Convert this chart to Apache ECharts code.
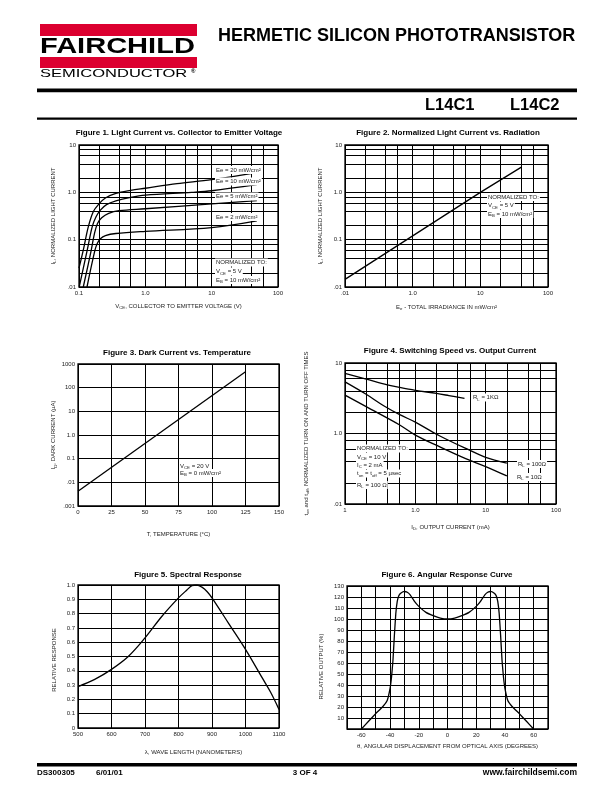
<!DOCTYPE html>
<html><head><meta charset="utf-8">
<script src="https://cdn.jsdelivr.net/npm/echarts/dist/echarts.min.js"></script>
<style>html,body{margin:0;padding:0;background:#fff}#c{width:612px;height:792px}</style>
</head><body><div id="c"></div>
<script>
// ---------------- DATA ----------------
// Figure 1: light current vs VCE  [VCE (V), normalized IL]
const fig1_ee20 = [[0.1,0.025],[0.116,0.06],[0.138,0.186],[0.164,0.39],[0.2,0.57],[0.25,0.76],[0.36,0.95],[0.6,1.1],[1,1.22],[3,1.52],[10,1.85],[48,2.6]];
const fig1_ee10 = [[0.101,0.0102],[0.133,0.06],[0.158,0.186],[0.18,0.3],[0.21,0.42],[0.26,0.55],[0.36,0.66],[0.6,0.78],[1,0.87],[5,1.0],[10,1.08],[48,1.45]];
const fig1_ee5  = [[0.116,0.01],[0.153,0.06],[0.17,0.13],[0.19,0.22],[0.22,0.29],[0.28,0.36],[0.4,0.41],[1,0.45],[10,0.57],[48,0.67]];
const fig1_ee2  = [[0.132,0.01],[0.174,0.06],[0.19,0.085],[0.21,0.105],[0.25,0.122],[0.36,0.135],[1,0.15],[10,0.18],[48,0.25]];
const fig1XTicks = ['0.1','1.0','10','100'];
const fig1YTicks = ['.01','0.1','1.0','10'];
// Figure 2: normalized light current vs irradiance
const fig2_line = [[0.1,0.0145],[10,1.0],[41,3.45]];
const fig2XTicks = ['.01','1.0','10','100'];
const fig2YTicks = ['.01','0.1','1.0','10'];
// Figure 3: dark current vs temperature
const fig3_line = [[0,0.0042],[125,470]];
const fig3YTicks = ['.001','.01','0.1','1.0','10','100','1000'];
// Figure 4: switching speed vs output current
const fig4_1k  = [[0.1,7.1],[0.2,5.9],[0.4,4.9],[0.6,4.5],[1,4.1],[2,3.7],[3,3.45],[5,3.15]];
const fig4_100 = [[0.1,5.4],[0.2,3.6],[0.35,2.5],[0.6,1.85],[1,1.45],[2.2,0.93],[5.9,0.58],[10,0.46],[20,0.38]];
const fig4_10  = [[0.1,3.5],[0.2,2.4],[0.6,1.32],[1,0.95],[2.2,0.65],[5.2,0.44],[10,0.34],[20,0.25]];
const fig4XTicks = ['1','1.0','10','100'];
const fig4YTicks = ['.01','1.0','10'];
// Figure 5: spectral response
const fig5_wavelength = [500,550,600,650,700,750,800,825,840,855,870,885,900,950,1000,1050,1075,1100];
const fig5_response   = [0.29,0.34,0.41,0.50,0.63,0.78,0.91,0.965,0.995,1.0,0.985,0.955,0.91,0.73,0.55,0.35,0.25,0.13];
// Figure 6: angular response
const fig6_angle  = [-60,-55,-50,-45,-42,-40,-39,-38,-37,-36,-35,-34,-33,-31,-30,-28,-26,-23,-20,-15,-10,-5,0,5,10,15,20,23,26,28,30,31,33,34,35,36,37,38,39,40,42,45,50,55,60];
const fig6_output = [0,7,14,20.5,26,37,47,62,85,105,116,121,123,124.8,125,124.3,122,116,111.5,106,103,100.8,100,100.8,103,106,111.5,116,122,124.3,125,124.8,123,121,116,105,85,62,47,37,26,20.5,14,7,0];
// log minor grid values per decade
const minorX = [2,4,6];
const minorY = [2,4,6,8];

// ---------------- STYLE ----------------
const FF = '"Liberation Sans", Arial, Helvetica, sans-serif';
const TXT = '#222';
const RED = '#DC0030';
const RICH = {
  n:{fontSize:6, fontFamily:FF, color:TXT, fill:TXT, lineHeight:8},
  s:{fontSize:4.3, fontFamily:FF, color:TXT, fill:TXT, lineHeight:4.3, verticalAlign:'bottom'}
};
const G = [
  {left:79, top:145, width:199, height:142},
  {left:345, top:145, width:203, height:142},
  {left:78, top:364, width:201, height:142},
  {left:345, top:363, width:211, height:141},
  {left:78, top:585, width:201, height:143},
  {left:347, top:586, width:201, height:143}
];

function logFmt(ticks, min){
  return v => { const i = Math.round(Math.log10(v/min)); return (i>=0 && i<ticks.length) ? ticks[i] : ''; };
}
function axis(idx, o){
  const nts = Object.assign({fontSize:6, color:TXT, fontFamily:FF, rich:RICH}, o.nameTextStyle||{});
  return Object.assign({
    gridIndex: idx,
    axisLine:{show:false}, axisTick:{show:false},
    splitLine:{show:true, lineStyle:{color:'#000', width:1}},
    nameLocation:'middle'
  }, o, {
    nameTextStyle: nts,
    axisLabel:Object.assign({fontSize:6, color:TXT, fontFamily:FF, margin:3}, o.axisLabel||{})
  });
}
function minorSeries(idx, xmin, xdec, ymin, ydec){
  const lines = [];
  for(let d=0; d<xdec; d++) minorX.forEach(m => lines.push({xAxis: xmin*Math.pow(10,d)*m}));
  for(let d=0; d<ydec; d++) minorY.forEach(m => lines.push({yAxis: ymin*Math.pow(10,d)*m}));
  return {type:'line', xAxisIndex:idx, yAxisIndex:idx, data:[], silent:true, z:1,
    markLine:{silent:true, z:1, symbol:['none','none'], label:{show:false}, emphasis:{disabled:true},
      lineStyle:{color:'#000', width:1, type:'solid'}, data:lines}};
}
function curve(idx, data, smooth){
  return {type:'line', xAxisIndex:idx, yAxisIndex:idx, data:data, showSymbol:false, symbol:'none',
    smooth:smooth||false, z:3, silent:true,
    lineStyle:{color:'#000', width:1.3}};
}
function txt(x, y, text, extra){
  return Object.assign({type:'text', x:x, y:y, z:100, silent:true,
    style:Object.assign({text:text, rich:RICH, fill:TXT, font:'6px '+FF, align:'left', verticalAlign:'middle',
      backgroundColor:'#fff', padding:[0,1]}, extra||{})});
}
function title(x, y, text){
  return {type:'text', x:x, y:y, z:100, silent:true,
    style:{text:text, fill:'#000', font:'bold 8px '+FF, align:'center', verticalAlign:'middle'}};
}

const option = {
  animation:false,
  backgroundColor:'#fff',
  grid: G.map(g => Object.assign({show:true, borderColor:'#000', borderWidth:1.3, backgroundColor:'transparent', outerBoundsMode:'none'}, g)),
  xAxis:[
    axis(0,{type:'log', logBase:10, min:0.1, max:100, axisLabel:{formatter:logFmt(fig1XTicks,0.1)},
      name:'{n|V}{s|CE}{n|, COLLECTOR TO EMITTER VOLTAGE (V)}', nameGap:15}),
    axis(1,{type:'log', logBase:10, min:0.1, max:100, axisLabel:{formatter:logFmt(fig2XTicks,0.1)},
      name:'{n|E}{s|e}{n| - TOTAL IRRADIANCE IN mW/cm²}', nameGap:16}),
    axis(2,{type:'value', min:0, max:150, interval:25,
      name:'{n|T, TEMPERATURE (°C)}', nameGap:24}),
    axis(3,{type:'log', logBase:10, min:0.1, max:100, axisLabel:{formatter:logFmt(fig4XTicks,0.1)},
      name:'{n|I}{s|D}{n|, OUTPUT CURRENT (mA)}', nameGap:19}),
    axis(4,{type:'value', min:500, max:1100, interval:100, axisLabel:{formatter:v => String(v)},
      name:'{n|λ, WAVE LENGTH (NANOMETERS)}', nameGap:20, nameTextStyle:{padding:[0,0,0,30]}}),
    axis(5,{type:'value', min:-70, max:70, interval:10,
      axisLabel:{formatter:v => (v%20===0 && Math.abs(v)<=60) ? String(v) : ''},
      name:'{n|θ, ANGULAR DISPLACEMENT FROM OPTICAL AXIS (DEGREES)}', nameGap:13})
  ],
  yAxis:[
    axis(0,{type:'log', logBase:10, min:0.01, max:10, axisLabel:{formatter:logFmt(fig1YTicks,0.01)},
      name:'{n|I}{s|L}{n|, NORMALIZED LIGHT CURRENT}', nameGap:22}),
    axis(1,{type:'log', logBase:10, min:0.01, max:10, axisLabel:{formatter:logFmt(fig2YTicks,0.01)},
      name:'{n|I}{s|L}{n|, NORMALIZED LIGHT CURRENT}', nameGap:21}),
    axis(2,{type:'log', logBase:10, min:0.001, max:1000, splitNumber:10, axisLabel:{formatter:logFmt(fig3YTicks,0.001)},
      name:'{n|I}{s|D}{n|, DARK CURRENT (µA)}', nameGap:19}),
    axis(3,{type:'log', logBase:10, min:0.1, max:10, axisLabel:{formatter:logFmt(fig4YTicks,0.1)},
      name:'{n|t}{s|on}{n| and t}{s|off}{n|, NORMALIZED TURN ON AND TURN OFF TIMES}', nameGap:35}),
    axis(4,{type:'value', min:0, max:1, interval:0.1,
      axisLabel:{formatter:v => v===0 ? '0' : v.toFixed(1)},
      name:'{n|RELATIVE RESPONSE}', nameGap:20, nameTextStyle:{padding:[0,7,0,0]}}),
    axis(5,{type:'value', min:0, max:130, interval:10,
      axisLabel:{formatter:v => v===0 ? '' : String(v)},
      name:'{n|RELATIVE OUTPUT (%)}', nameGap:22, nameTextStyle:{padding:[0,18,0,0]}})
  ],
  series:[
    minorSeries(0, 0.1, 3, 0.01, 3),
    curve(0, fig1_ee20, 0.35), curve(0, fig1_ee10, 0.35), curve(0, fig1_ee5, 0.35), curve(0, fig1_ee2, 0.35),
    minorSeries(1, 0.1, 3, 0.01, 3),
    curve(1, fig2_line, false),
    curve(2, fig3_line, false),
    minorSeries(3, 0.1, 3, 0.1, 2),
    curve(3, fig4_1k, 0.35), curve(3, fig4_100, 0.35), curve(3, fig4_10, 0.35),
    curve(4, fig5_wavelength.map((w,i)=>[w, fig5_response[i]]), 0.35),
    curve(5, fig6_angle.map((a,i)=>[a, fig6_output[i]]), 0.12)
  ],
  graphic:{elements:[
    // header
    {type:'rect', z:100, shape:{x:40, y:24, width:157, height:12}, style:{fill:RED}},
    {type:'text', z:100, x:40, y:47, scaleX:1.32, style:{text:'FAIRCHILD', font:'bold 22px '+FF, fill:'#000', align:'left', verticalAlign:'middle'}},
    {type:'rect', z:100, shape:{x:40, y:57, width:157, height:11}, style:{fill:RED}},
    {type:'text', z:100, x:40, y:73.5, scaleX:1.5, style:{text:'SEMICONDUCTOR', font:'11px '+FF, fill:'#000', align:'left', verticalAlign:'middle'}},
    {type:'text', z:100, x:191, y:71, style:{text:'®', font:'bold 6px '+FF, fill:'#000', align:'left', verticalAlign:'middle'}},
    {type:'text', z:100, x:218, y:36.5, style:{text:'HERMETIC SILICON PHOTOTRANSISTOR', font:'bold 18px '+FF, fill:'#000', align:'left', verticalAlign:'middle'}},
    {type:'rect', z:100, shape:{x:37, y:88.5, width:540, height:3.8}, style:{fill:'#000'}},
    {type:'text', z:100, x:425, y:105.5, style:{text:'L14C1', font:'bold 16.5px '+FF, fill:'#000', align:'left', verticalAlign:'middle'}},
    {type:'text', z:100, x:510, y:105.5, style:{text:'L14C2', font:'bold 16.5px '+FF, fill:'#000', align:'left', verticalAlign:'middle'}},
    {type:'rect', z:100, shape:{x:37, y:117.5, width:540, height:2.2}, style:{fill:'#000'}},
    // footer
    {type:'rect', z:100, shape:{x:37, y:763, width:540, height:3.5}, style:{fill:'#000'}},
    {type:'text', z:100, x:37, y:772.5, style:{text:'DS300305', font:'bold 8px '+FF, fill:'#000', align:'left', verticalAlign:'middle'}},
    {type:'text', z:100, x:96, y:772.5, style:{text:'6/01/01', font:'bold 8px '+FF, fill:'#000', align:'left', verticalAlign:'middle'}},
    {type:'text', z:100, x:305, y:772.5, style:{text:'3 OF 4', font:'bold 8px '+FF, fill:'#000', align:'center', verticalAlign:'middle'}},
    {type:'text', z:100, x:577, y:772.5, style:{text:'www.fairchildsemi.com', font:'bold 8.5px '+FF, fill:'#000', align:'right', verticalAlign:'middle'}},
    // figure titles
    title(179, 132.5, 'Figure 1. Light Current vs. Collector to Emitter Voltage'),
    title(448, 132.5, 'Figure 2. Normalized Light Current vs. Radiation'),
    title(177, 352.5, 'Figure 3. Dark Current vs. Temperature'),
    title(450, 351, 'Figure 4. Switching Speed vs. Output Current'),
    title(188, 575, 'Figure 5. Spectral Response'),
    title(447, 575, 'Figure 6. Angular Response Curve'),
    // Fig 1 annotations
    txt(215, 170, '{n|Ee = 20 mW/cm²}'),
    txt(215, 181.5, '{n|Ee = 10 mW/cm²}'),
    txt(215, 196.5, '{n|Ee = 5 mW/cm²}'),
    txt(215, 217, '{n|Ee = 2 mW/cm²}'),
    txt(215, 262.5, '{n|NORMALIZED TO:}'),
    txt(215, 271.5, '{n|V}{s|CE}{n| = 5 V}'),
    txt(215, 280, '{n|E}{s|B}{n| = 10 mW/cm²}'),
    // Fig 2 annotations
    txt(487, 197, '{n|NORMALIZED TO:}'),
    txt(487, 205.5, '{n|V}{s|CE}{n| = 5 V}'),
    txt(487, 214, '{n|E}{s|B}{n| = 10 mW/cm²}'),
    // Fig 3 annotations
    txt(179, 466, '{n|V}{s|CE}{n| = 20 V}'),
    txt(179, 473, '{n|E}{s|B}{n| = 0 mW/cm²}'),
    // Fig 4 annotations
    txt(356, 448.5, '{n|NORMALIZED TO:}'),
    txt(356, 457, '{n|V}{s|CE}{n| = 10 V}'),
    txt(356, 465, '{n|I}{s|C}{n| = 2 mA}'),
    txt(356, 473.5, '{n|t}{s|on}{n| = t}{s|off}{n| = 5 µsec}'),
    txt(356, 485, '{n|R}{s|L}{n| = 100 Ω}'),
    txt(472, 397.5, '{n|R}{s|L}{n| = 1KΩ}'),
    txt(517, 464, '{n|R}{s|L}{n| = 100Ω}'),
    txt(516, 477, '{n|R}{s|L}{n| = 10Ω}')
  ]}
};
const chart = echarts.init(document.getElementById('c'), null, {renderer:'canvas', width:612, height:792});
chart.setOption(option);
</script></body></html>
